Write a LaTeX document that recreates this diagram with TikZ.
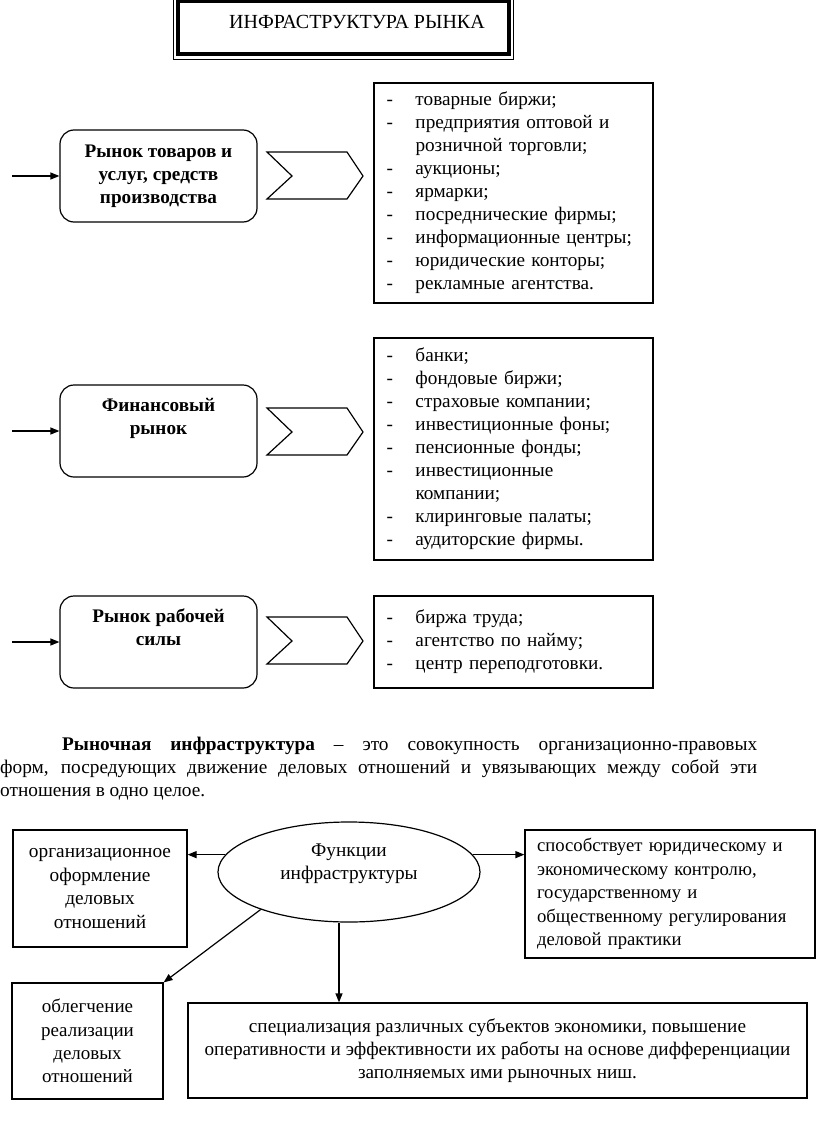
\documentclass[tikz,border=0pt]{standalone}
\usepackage{fontspec}
\setmainfont{Liberation Serif}
\usetikzlibrary{arrows.meta,shapes.geometric}
\newcommand{\dsh}{\makebox[29pt][l]{-}}
\begin{document}
\begin{tikzpicture}[x=1pt,y=-1pt,
  every node/.style={font=\fontsize{19.3}{23}\selectfont, inner sep=0pt},
  lw/.style={line width=1.2pt},
  arr/.style={lw, -{Triangle[length=9pt,width=7pt]}},
  mbox/.style={lw, draw, rounded corners=14pt, minimum width=197pt, minimum height=92pt, align=center, font=\fontsize{19.2}{23}\selectfont\bfseries},
  listbox/.style={lw, draw, minimum height=#1, text width=254pt, inner xsep=12.5pt, align=left, font=\fontsize{19.2}{23}\selectfont},
  plainbox/.style={lw, draw, align=center}
]
\fill[white] (0,0) rectangle (816,1134);
\useasboundingbox (0,0) rectangle (816,1134);

% title
\draw[line width=1pt] (173,-5) rectangle (513,60);
\draw[line width=4pt] (177.5,1.5) rectangle (508.5,54);
\node[font=\fontsize{20}{23}\selectfont] (T) at (357,22) {ИНФРАСТРУКТУРА РЫНКА};

% market boxes
\node[mbox] (B1) at (158.5,176) {Рынок товаров и\\услуг, средств\\производства};
\node[mbox] (B2) at (158.5,431) {Финансовый\\рынок\\\strut};
\node[mbox] (B3) at (158.5,642) {Рынок рабочей\\силы\\\strut};

\coordinate (s1) at (12,176);
\coordinate (s2) at (12,431);
\coordinate (s3) at (12,642);
\draw[arr] (s1) -- (B1.west);
\draw[arr] (s2) -- (B2.west);
\draw[arr] (s3) -- (B3.west);

% chevrons
\foreach \yy in {176,432,641}{
  \draw[lw, shift={(0,\yy)}] (267,-24) -- (347,-24) -- (363,0) -- (347,23) -- (267,23) -- (292,0) -- cycle;
}

% lists
\node[listbox=220pt] (L1) at (513.5,193) {\begin{tabular}{@{}l@{}l@{}}
\dsh & товарные биржи;\\
\dsh & предприятия оптовой и\\
     & розничной торговли;\\
\dsh & аукционы;\\
\dsh & ярмарки;\\
\dsh & посреднические фирмы;\\
\dsh & информационные центры;\\
\dsh & юридические конторы;\\
\dsh & рекламные агентства.
\end{tabular}};

\node[listbox=222pt] (L2) at (513.5,449) {\begin{tabular}{@{}l@{}l@{}}
\dsh & банки;\\
\dsh & фондовые биржи;\\
\dsh & страховые компании;\\
\dsh & инвестиционные фоны;\\
\dsh & пенсионные фонды;\\
\dsh & инвестиционные\\
     & компании;\\
\dsh & клиринговые палаты;\\
\dsh & аудиторские фирмы.
\end{tabular}};

\node[listbox=92pt] (L3) at (513.5,642) {\begin{tabular}{@{}l@{}l@{}}
\dsh & биржа труда;\\
\dsh & агентство по найму;\\
\dsh & центр переподготовки.
\end{tabular}};

% paragraph
\begin{scope}[every node/.style={font=\fontsize{19.3}{23}\selectfont, inner sep=0pt, anchor=base west}]
\node (P1) at (62,750) {\makebox[695pt][s]{\textbf{Рыночная инфраструктура} – это совокупность организационно-правовых}};
\node (P2) at (0,773) {\makebox[757pt][s]{форм, посредующих движение деловых отношений и увязывающих между собой эти}};
\node (P3) at (0,796) {отношения в одно целое.};
\end{scope}

% functions
\node[lw, draw, ellipse, minimum width=262pt, minimum height=100pt] (E) at (349,872) {};
\node[align=center] (Et) at (349,864) {Функции\\инфраструктуры};

\node[plainbox, minimum width=174pt, minimum height=117pt, font=\fontsize{19.3}{23.5}\selectfont] (O) at (100,888.5) {организационное\\оформление\\деловых\\отношений};
\node[lw, draw, text width=266pt, inner xsep=12pt, minimum height=128pt, align=left, font=\fontsize{18.7}{23.5}\selectfont] (R) at (670,894) {способствует юридическому и\\экономическому контролю,\\государственному и\\общественному регулирования\\деловой практики};
\node[plainbox, minimum width=151pt, minimum height=116pt, font=\fontsize{19}{23.3}\selectfont] (Ob) at (87.5,1041) {облегчение\\реализации\\деловых\\отношений};
\node[plainbox, minimum width=619pt, minimum height=95pt, font=\fontsize{19.2}{23}\selectfont] (Big) at (497.5,1050.5) {специализация различных субъектов экономики, повышение\\оперативности и эффективности их работы на основе дифференциации\\заполняемых ими рыночных ниш.};

\draw[arr] (E.172) -- (E.172 -| O.east);
\draw[arr] (E.8) -- (E.8 -| R.west);
\draw[arr] (E.203) -- (Ob.north east);
\draw[arr] ([xshift=-10pt]E.south) -- ([xshift=-10pt]E.south |- Big.north);
\end{tikzpicture}
\end{document}
